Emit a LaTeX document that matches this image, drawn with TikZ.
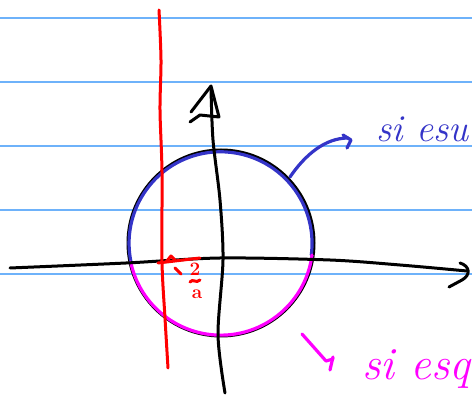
\documentclass[tikz,border=0pt]{standalone}
\definecolor{ruleblue}{RGB}{110,178,250}
\definecolor{inkblue}{RGB}{52,52,200}
\definecolor{inkmag}{RGB}{255,0,255}
\definecolor{inkred}{RGB}{255,0,0}
\begin{document}
\begin{tikzpicture}[x=1pt,y=-1pt,line cap=round,line join=round,
  ruled/.style={draw=ruleblue,line width=1.2pt},
  ink/.style={draw=black,line width=3pt},
  blueink/.style={draw=inkblue,line width=3.2pt},
  magink/.style={draw=inkmag,line width=3.2pt},
  redink/.style={draw=inkred,line width=3pt},
  bluetext/.style={text=inkblue,font=\fontsize{38}{38}\selectfont\itshape,inner sep=0pt,anchor=base west},
  magtext/.style={text=inkmag,font=\fontsize{46}{46}\selectfont\itshape,inner sep=0pt,anchor=base west},
  redtext/.style={text=inkred,font=\fontsize{19}{19}\selectfont\bfseries,inner sep=0pt}]
\useasboundingbox (0,0) rectangle (472,398);
\fill[white] (0,0) rectangle (472,398);
\begin{scope}
\clip (0,0) rectangle (472,398);
% ruled lines
\foreach \yy in {18,82,146,210,274} \draw[ruled] (0,\yy) -- (472,\yy);
% circle
\coordinate (O) at (221,243);
\draw[ink] (O) circle [radius=93pt];
% blue upper arc
\coordinate (L) at (131,262);
\coordinate (R) at (312,255);
\draw[blueink] (L) arc[start angle=191.8,end angle=-7.4,radius=91.5pt];
% magenta lower arc
\draw[magink] (R) arc[start angle=-7.4,end angle=-168.2,radius=92pt];
% x axis
\draw[ink] plot[smooth] coordinates {(10,268) (126,263) (220,258) (330,260) (400,265) (467,271)};
\coordinate (xtip) at (467,271);
\draw[ink] (460,263) .. controls (470,266) and (471,275) .. (462,280) -- (449,287);
% y axis
\draw[ink] plot[smooth] coordinates {(211,88) (213,140) (220,200) (223,260) (218,335) (225,393)};
\coordinate (ytip) at (211,86);
\draw[ink] (191,112) -- (ytip) -- (219,117) -- (200,115) -- (190,122);
% red line
\draw[redink] plot[smooth] coordinates {(159,10) (161,60) (160,110) (162,172) (162,262) (165,318) (168,368)};
\draw[redink] (158,263) -- (200,258);
\draw[redink] (166,262) -- (171,256) -- (175,260);
\draw[redink] (175,268) -- (181,274);
\node[redtext] (two) at (195,269) {2};
\draw[redink] (190,282) .. controls (193,278) and (196,284) .. (200,280);
\node[redtext] (aa) at (197,294) {a};
% blue arrow and text
\coordinate (bs) at (290,177);
\coordinate (be) at (348,138);
\draw[blueink] (bs) .. controls (305,155) and (325,138) .. (be);
\draw[blueink] (343,135) -- (351,140) -- (347,148);
\node[bluetext] (bt) at (376,142) {si esu};
% magenta arrow and text
\coordinate (ms) at (302,334);
\coordinate (me) at (326,361);
\draw[magink] (ms) -- (me) -- (333,359);
\draw[magink] (333,357) -- (330,370);
\node[magtext] (mt) at (362,380) {si esq};
\end{scope}
\end{tikzpicture}
\end{document}
